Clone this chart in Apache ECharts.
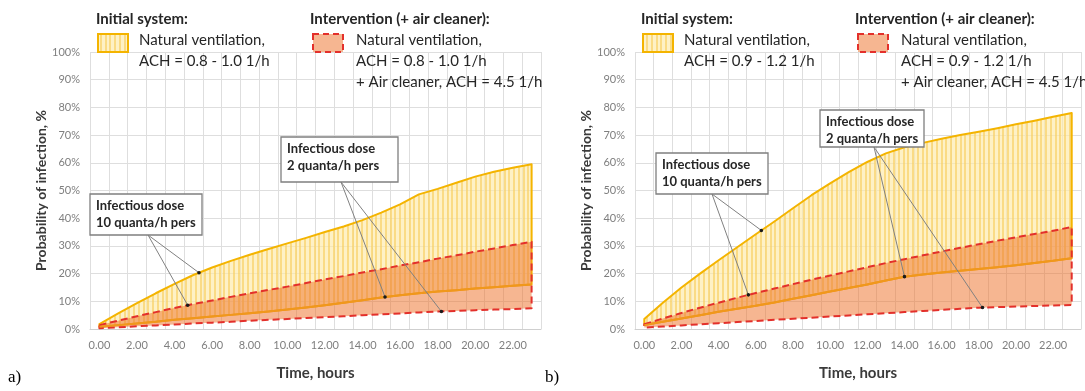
<!DOCTYPE html>
<html>
<head>
<meta charset="utf-8">
<script src="https://cdn.jsdelivr.net/npm/echarts@6/dist/echarts.min.js"></script>
<style>
  html, body { margin: 0; background: #fff; }
  #chart { width: 1085px; height: 391px; }
</style>
</head>
<body>
<div id="chart"></div>
<script>
// time categories, hours
const hours = ['0.00','1.00','2.00','3.00','4.00','5.00','6.00','7.00','8.00','9.00','10.00','11.00',
  '12.00','13.00','14.00','15.00','16.00','17.00','18.00','19.00','20.00','21.00','22.00','23.00'];

// a) natural ventilation ACH = 0.8 - 1.0 1/h  (probability of infection, %)
const aInit10 = [1.8, 5.6, 9.3, 12.9, 16.3, 19.5, 22.2, 24.6, 26.8, 28.9, 30.9, 32.9,
  35.0, 37.0, 39.3, 42.0, 45.0, 48.6, 50.6, 52.8, 55.0, 56.8, 58.2, 59.5];
const aInit2 = [0.8, 1.4, 2.0, 2.6, 3.3, 3.9, 4.5, 5.1, 5.7, 6.3, 7.0, 7.8,
  8.6, 9.5, 10.4, 11.4, 12.2, 12.9, 13.5, 14.0, 14.6, 15.1, 15.6, 16.1];
const aCleaner10 = [1.4, 3.0, 4.6, 6.1, 7.6, 9.0, 10.3, 11.6, 12.9, 14.1, 15.3, 16.6,
  17.9, 19.1, 20.4, 21.6, 22.9, 24.1, 25.4, 26.6, 27.9, 29.1, 30.3, 31.5];
const aCleaner2 = [0.3, 0.6, 1.0, 1.3, 1.6, 2.0, 2.3, 2.6, 3.0, 3.3, 3.6, 4.0,
  4.3, 4.6, 5.0, 5.3, 5.6, 6.0, 6.3, 6.5, 6.8, 7.0, 7.2, 7.5];

// b) natural ventilation ACH = 0.9 - 1.2 1/h
const bInit10 = [3.6, 9.5, 15.0, 20.0, 24.8, 29.5, 34.2, 38.8, 43.6, 48.3, 52.6, 56.6,
  60.3, 63.4, 65.6, 67.2, 68.7, 70.0, 71.2, 72.5, 73.9, 75.2, 76.6, 78.0];
const bInit2 = [1.4, 2.6, 3.8, 5.0, 6.2, 7.3, 8.4, 9.6, 10.9, 12.2, 13.5, 14.8,
  16.1, 17.5, 18.9, 19.7, 20.4, 21.0, 21.7, 22.3, 23.0, 23.8, 24.6, 25.5];
const bCleaner10 = [1.7, 3.8, 5.8, 7.7, 9.5, 11.3, 13.0, 14.6, 16.2, 17.8, 19.3, 20.8,
  22.3, 23.8, 25.2, 26.6, 28.0, 29.3, 30.6, 31.9, 33.1, 34.3, 35.5, 36.8];
const bCleaner2 = [0.5, 0.9, 1.3, 1.7, 2.1, 2.5, 2.9, 3.3, 3.7, 4.1, 4.5, 4.9,
  5.3, 5.7, 6.1, 6.5, 6.9, 7.3, 7.7, 7.9, 8.1, 8.3, 8.5, 8.7];

const GOLD = '#f4b400';
const ORANGE = '#f0981c';
const RED = '#e3302b';
const SALMON = 'rgba(237,115,45,0.52)';
const SANS = 'Lato, "Noto Sans", sans-serif';

// vertical hatching of the "initial system" band
function stripes() {
  const c = document.createElement('canvas');
  c.width = 19; c.height = 4;
  const g = c.getContext('2d');
  g.fillStyle = 'rgba(253,234,168,0.65)';
  g.fillRect(0, 0, 19, 4);
  g.fillStyle = 'rgba(247,204,90,0.6)';
  [0, 5, 10, 14].forEach(x => g.fillRect(x, 0, 2, 4));
  return { image: c, repeat: 'repeat' };
}
const hatch = stripes();

function band(upper, lower, idx, style) {
  return {
    type: 'custom', xAxisIndex: idx, yAxisIndex: idx, silent: true, data: [0],
    renderItem: (params, api) => {
      const pts = upper.map((v, i) => api.coord([i, v]));
      for (let i = lower.length - 1; i >= 0; i--) pts.push(api.coord([i, lower[i]]));
      return { type: 'polygon', shape: { points: pts }, style: style };
    }
  };
}

function solid(data, idx) {
  return {
    type: 'line', xAxisIndex: idx, yAxisIndex: idx, data: data, showSymbol: false, silent: true,
    lineStyle: { color: ORANGE, width: 2 }
  };
}

function xAx(idx) {
  return {
    type: 'category', gridIndex: idx, data: hours, boundaryGap: true,
    name: 'Time, hours', nameLocation: 'middle', nameGap: 37,
    nameTextStyle: { fontFamily: SANS, fontWeight: 'bold', fontSize: 15, color: '#3a3a3a' },
    axisLine: { lineStyle: { color: '#cfcfcf' } },
    axisTick: { show: false },
    axisLabel: { interval: 1, color: '#7f7f7f', fontFamily: SANS, fontSize: 11, margin: 11 },
    splitLine: { show: true, interval: 0, lineStyle: { color: '#dedede' } }
  };
}

function yAx(idx) {
  return {
    type: 'value', gridIndex: idx, min: 0, max: 100, interval: 10,
    name: 'Probability of infection, %', nameLocation: 'middle', nameGap: 33,
    nameTextStyle: { fontFamily: SANS, fontWeight: 'bold', fontSize: 14, color: '#3a3a3a' },
    axisLine: { show: false }, axisTick: { show: false },
    axisLabel: { formatter: '{value}%', color: '#7f7f7f', fontFamily: SANS, fontSize: 11, margin: 10 },
    splitLine: { lineStyle: { color: '#dedede' } }
  };
}

const yellowStyle = { fill: hatch, stroke: GOLD, lineWidth: 2, lineJoin: 'round' };
const redStyle = { fill: SALMON, stroke: RED, lineWidth: 2, lineDash: [7, 4], lineJoin: 'round' };

function txt(x, y, text, opt) {
  return { type: 'text', x: x, y: y, silent: true, style: Object.assign({
    text: text, font: '15px ' + SANS, fill: '#262626', verticalAlign: 'middle' }, opt || {}) };
}

function legendBlock(dx, ach) {
  return [
    txt(96 + dx, 19, 'Initial system:', { font: 'bold 15px ' + SANS }),
    { type: 'rect', silent: true, shape: { x: 98 + dx, y: 34, width: 30, height: 18 },
      style: { fill: hatch, stroke: GOLD, lineWidth: 2 } },
    txt(139 + dx, 40, 'Natural ventilation,'),
    txt(139 + dx, 61, 'ACH = ' + ach + ' 1/h'),
    txt(310 + dx, 19, 'Intervention (+ air cleaner):', { font: 'bold 15px ' + SANS }),
    { type: 'rect', silent: true, shape: { x: 313 + dx, y: 34, width: 30, height: 18 },
      style: { fill: SALMON, stroke: RED, lineWidth: 2, lineDash: [6, 4] } },
    txt(356 + dx, 40, 'Natural ventilation,'),
    txt(356 + dx, 61, 'ACH = ' + ach + ' 1/h'),
    txt(356 + dx, 82, '+ Air cleaner, ACH = 4.5 1/h')
  ];
}

function box(x, y, w, h, dose) {
  return [
    { type: 'rect', silent: true, z: 100, shape: { x: x, y: y, width: w, height: h },
      style: { fill: '#fff', stroke: '#7f7f7f', lineWidth: 1.3 } },
    Object.assign(txt(x + 6, y + 12, 'Infectious dose', { font: 'bold 13px ' + SANS }), { z: 101 }),
    Object.assign(txt(x + 6, y + 29, dose + ' quanta/h pers', { font: 'bold 13px ' + SANS }), { z: 101 })
  ];
}

const chart = echarts.init(document.getElementById('chart'));
chart.setOption({
  animation: false,
  grid: [
    { left: 90, top: 52, width: 451, height: 277 },
    { left: 635, top: 52, width: 446, height: 277 }
  ],
  xAxis: [xAx(0), xAx(1)],
  yAxis: [yAx(0), yAx(1)],
  series: [
    band(aInit10, aInit2, 0, yellowStyle),
    band(aCleaner10, aCleaner2, 0, redStyle),
    solid(aInit2, 0),
    band(bInit10, bInit2, 1, yellowStyle),
    band(bCleaner10, bCleaner2, 1, redStyle),
    solid(bInit2, 1)
  ]
});

// pixel point on a curve at a fractional hour
function on(idx, arr, t) {
  const i = Math.min(Math.floor(t), arr.length - 2), f = t - i;
  const p0 = chart.convertToPixel({ gridIndex: idx }, [i, arr[i]]);
  const p1 = chart.convertToPixel({ gridIndex: idx }, [i + 1, arr[i + 1]]);
  return [p0[0] + (p1[0] - p0[0]) * f, p0[1] + (p1[1] - p0[1]) * f];
}

function arrow(from, to) {
  return [
    { type: 'line', silent: true, z: 90, shape: { x1: from[0], y1: from[1], x2: to[0], y2: to[1] },
      style: { stroke: '#808080', lineWidth: 1 } },
    { type: 'circle', silent: true, z: 91, shape: { cx: to[0], cy: to[1], r: 1.8 },
      style: { fill: '#1a1a1a' } }
  ];
}

const graphics = [].concat(
  legendBlock(0, '0.8 - 1.0'),
  legendBlock(545, '0.9 - 1.2'),
  [txt(8, 378, 'a)', { font: '17px "Liberation Serif", serif', fill: '#000' }),
   txt(545, 378, 'b)', { font: '17px "Liberation Serif", serif', fill: '#000' })],
  arrow([148, 235], on(0, aInit10, 5.3)),
  arrow([148, 235], on(0, aCleaner10, 4.7)),
  arrow([341, 182], on(0, aInit2, 15.2)),
  arrow([341, 182], on(0, aCleaner2, 18.2)),
  arrow([712, 194], on(1, bInit10, 6.3)),
  arrow([712, 194], on(1, bCleaner10, 5.6)),
  arrow([874, 147], on(1, bInit2, 14.0)),
  arrow([874, 147], on(1, bCleaner2, 18.2)),
  box(90, 194, 112, 41, '10'),
  box(281, 137, 117, 45, '2'),
  box(656, 153, 112, 41, '10'),
  box(820, 110, 104, 37, '2')
);
chart.setOption({ graphic: graphics });
</script>
</body>
</html>
